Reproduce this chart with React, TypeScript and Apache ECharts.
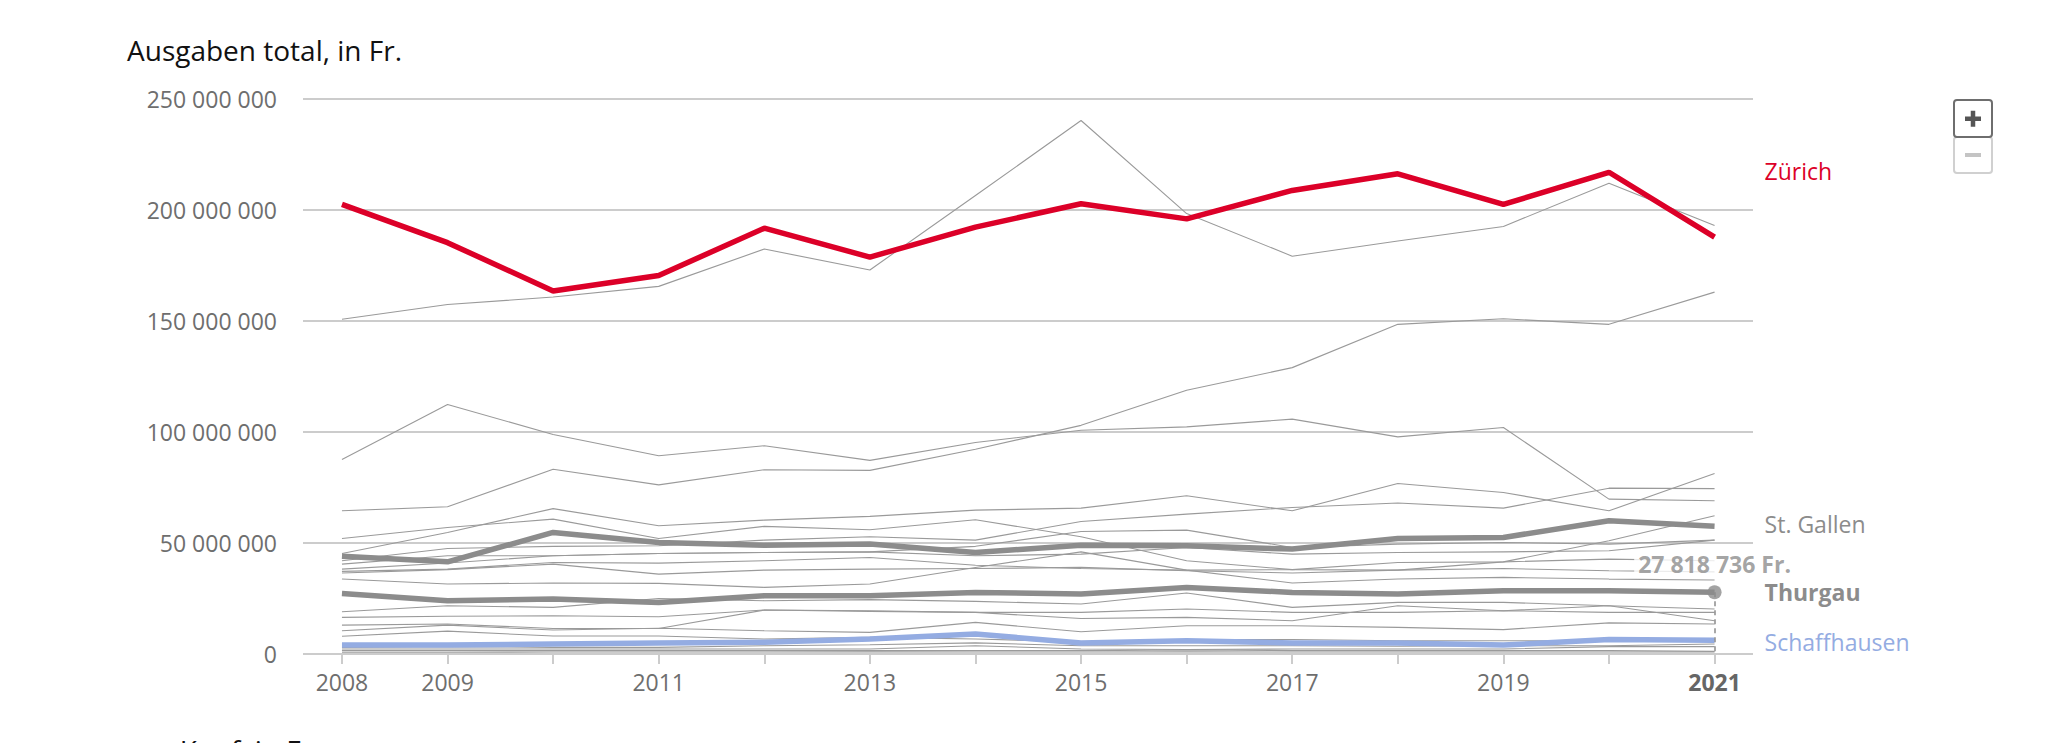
import React, { useEffect, useRef } from "react";
import * as echarts from "echarts";

// ---------- data (values in millions of Fr.) ----------
const years = [2008, 2009, 2010, 2011, 2012, 2013, 2014, 2015, 2016, 2017, 2018, 2019, 2020, 2021];
const labelYears = [2008, 2009, 2011, 2013, 2015, 2017, 2019, 2021];

const zuerich = [202.5, 185.3, 163.5, 170.5, 191.8, 178.8, 192.3, 202.8, 196, 208.8, 216.3, 202.5, 217, 187.8];
const stGallen = [44, 41.5, 54.75, 50.25, 49, 49.5, 45.75, 49, 48.75, 47.25, 52, 52.5, 60, 57.5];
const thurgau = [27.3, 24, 24.75, 23.25, 26.25, 26.25, 27.75, 27, 30, 27.75, 27, 28.5, 28.5, 27.818736];
const schaffhausen = [4, 4, 4.5, 5, 5.25, 6.75, 9, 5, 6, 5, 5, 4, 6.5, 6.2];

const bern = [150.8, 157.4, 160.8, 165.6, 182.4, 173, 206.5, 240.3, 198.4, 179.2, 186, 192.6, 212, 193];
const waadt = [87.6, 112.4, 98.9, 89.3, 93.8, 87.2, 95.3, 100.8, 102.3, 105.8, 97.8, 102, 69.75, 69];
const aargau = [64.5, 66.3, 83.2, 76.2, 83, 82.7, 92.2, 103, 118.8, 129, 148.5, 151, 148.5, 163];
const genf = [45.3, 54.75, 65.5, 57.75, 60.3, 62, 64.8, 65.7, 71.25, 64.5, 76.8, 72.75, 64.5, 81.3];
const luzern = [52, 57, 60.75, 52, 57.5, 56, 60.5, 52.8, 42, 38, 37.8, 41.5, 51, 62.25];
const tessin = [42, 47.5, 48.5, 48.75, 51.3, 52.8, 51.3, 59.7, 63, 66, 68, 65.7, 74.7, 74.5];
const wallis = [38.25, 41, 44.25, 45.3, 45.75, 46, 48.5, 55.2, 55.8, 48, 49.5, 50.25, 49.5, 51.3];
const baselStadt = [40.5, 44.25, 44.25, 45.3, 45.75, 46, 44.25, 45, 48, 45, 45.75, 46, 46.5, 51.3];
const baselLand = [37.2, 38.25, 41.25, 40.95, 42, 43.5, 40, 38.5, 37.8, 38, 41.25, 41.5, 42.75, 42];
const solothurn = [36.5, 38, 40.5, 36, 37.8, 38.25, 38.5, 39, 37.5, 36.5, 37.8, 38.5, 37.5, 37];
const freiburg = [33.75, 31.5, 32, 31.8, 30, 31.5, 39, 46, 37.8, 32, 33.75, 34.5, 33.75, 33.3];
const graubuenden = [19, 21.75, 21, 25, 24, 24.5, 23.7, 22.5, 27.5, 21, 23.25, 23.25, 21.75, 20.25];
const neuenburg = [16.5, 17, 17.25, 16.8, 19.8, 19.2, 18.75, 18.75, 20.25, 18.75, 18.75, 19.5, 18.75, 18.75];
const schwyz = [13, 13.5, 11.5, 11.5, 19.8, 19.5, 18.75, 16, 16.5, 15, 21.75, 19.5, 21.75, 15];
const zug = [10.5, 13, 10.8, 11.6, 10.5, 9.75, 14.25, 10, 12.75, 12.75, 12, 11, 14, 13.5];
const jura = [8, 10.3, 8.1, 8.1, 6.75, 7.5, 6.75, 5.5, 6.5, 6.5, 6, 6, 6, 6.5];
const glarus = [3, 3.3, 3, 3, 3.75, 4.2, 5, 3.75, 3.75, 3.75, 3.5, 3.75, 3.75, 4.5];
const appenzellAR = [2.25, 2.25, 2.25, 2.25, 2.25, 2.25, 3.75, 2.25, 2, 2.25, 2.25, 2.25, 3.3, 3.3];
const nidwalden = [1.5, 1.5, 1.5, 1.5, 1.5, 1.5, 1.5, 1.5, 1.8, 1.5, 1.5, 1.5, 1.5, 1.2];
const uri = [0.8, 0.8, 0.9, 0.9, 0.9, 1, 0.9, 0.9, 1, 0.9, 0.9, 0.9, 0.9, 0.9];

const thinCantons = [
  { name: "Bern", values: bern },
  { name: "Waadt", values: waadt },
  { name: "Aargau", values: aargau },
  { name: "Genf", values: genf },
  { name: "Luzern", values: luzern },
  { name: "Tessin", values: tessin },
  { name: "Wallis", values: wallis },
  { name: "Basel-Stadt", values: baselStadt },
  { name: "Basel-Landschaft", values: baselLand },
  { name: "Solothurn", values: solothurn },
  { name: "Freiburg", values: freiburg },
  { name: "Graubünden", values: graubuenden },
  { name: "Neuenburg", values: neuenburg },
  { name: "Schwyz", values: schwyz },
  { name: "Zug", values: zug },
  { name: "Jura", values: jura },
  { name: "Glarus", values: glarus },
  { name: "Appenzell A.Rh.", values: appenzellAR },
  { name: "Nidwalden", values: nidwalden },
  { name: "Uri", values: uri },
];

// ---------- styles ----------
const FONT = '"Open Sans", "Noto Sans", sans-serif';
const RED = "#dc0028";
const GRAY_THICK = "#8c8c8c";
const THIN = "#9a9a9a";
const BLUE = "#94ace2";
const AXIS_TEXT = "#6e6e6e";

const fmt = (n: number) =>
  Math.round(n).toString().replace(/\B(?=(\d{3})+(?!\d))/g, " ");

export default function App() {
  const ref = useRef<HTMLDivElement>(null);

  useEffect(() => {
    if (!ref.current) return;
    const chart = echarts.init(ref.current, null, { renderer: "svg" });
    const pts = (arr: number[]) => years.map((y, i) => [y, arr[i]]);

    const thinSeries = thinCantons.map((c) => ({
      type: "line",
      name: c.name,
      data: pts(c.values),
      showSymbol: false,
      symbol: "none",
      silent: true,
      z: 2,
      lineStyle: { color: THIN, width: 1.1 },
    }));

    const endLabel = (color: string, bold: boolean, offset: number[]) => ({
      show: true,
      formatter: "{a}",
      distance: 50,
      offset,
      color,
      fontSize: 23,
      fontFamily: FONT,
      fontWeight: bold ? "bold" : "normal",
      align: "left",
      verticalAlign: "middle",
    });

    const tgLast = thurgau[thurgau.length - 1];
    const lastYear = years[years.length - 1];

    const option: any = {
      animation: false,
      backgroundColor: "#ffffff",
      grid: { left: 303, right: 300, top: 99, bottom: 89, containLabel: false },
      xAxis: {
        type: "value",
        min: 2007.631,
        max: 2021.364,
        axisLine: { show: false },
        splitLine: { show: false },
        axisTick: {
          show: true,
          customValues: years,
          length: 10,
          lineStyle: { color: "#cccccc", width: 2 },
        },
        axisLabel: {
          customValues: labelYears,
          margin: 16,
          fontSize: 23,
          color: AXIS_TEXT,
          fontFamily: FONT,
          formatter: (v: number) => (v === lastYear ? "{b|" + v + "}" : String(v)),
          rich: {
            b: { fontWeight: "bold", fontSize: 23, color: "#666666", fontFamily: FONT },
          },
        },
      },
      yAxis: {
        type: "value",
        min: 0,
        max: 250,
        interval: 50,
        axisLine: { show: false },
        axisTick: { show: false },
        splitLine: { lineStyle: { color: "#cccccc", width: 2 } },
        axisLabel: {
          margin: 26,
          fontSize: 23,
          color: AXIS_TEXT,
          fontFamily: FONT,
          formatter: (v: number) => fmt(v * 1e6),
        },
      },
      series: [
        ...thinSeries,
        {
          type: "line",
          name: "Schaffhausen",
          data: pts(schaffhausen),
          showSymbol: false,
          symbol: "none",
          silent: true,
          z: 4,
          lineStyle: { color: BLUE, width: 5.5 },
          endLabel: endLabel(BLUE, false, [0, 1.5]),
        },
        {
          type: "line",
          name: "St. Gallen",
          data: pts(stGallen),
          showSymbol: false,
          symbol: "none",
          silent: true,
          z: 5,
          lineStyle: { color: GRAY_THICK, width: 5.5 },
          endLabel: endLabel(GRAY_THICK, false, [0, -2]),
        },
        {
          type: "line",
          name: "Thurgau",
          data: pts(thurgau),
          showSymbol: false,
          symbol: "none",
          silent: true,
          z: 5,
          lineStyle: { color: GRAY_THICK, width: 5.5 },
          endLabel: endLabel(GRAY_THICK, true, [0, 0]),
        },
        {
          type: "line",
          name: "Zürich",
          data: pts(zuerich),
          showSymbol: false,
          symbol: "none",
          silent: true,
          z: 6,
          lineStyle: { color: RED, width: 5.5 },
          endLabel: endLabel(RED, false, [0, -66]),
        },
        {
          type: "scatter",
          name: "Thurgau Punkt",
          data: [[lastYear, tgLast]],
          symbol: "circle",
          symbolSize: 14,
          silent: true,
          z: 8,
          itemStyle: { color: GRAY_THICK },
          label: {
            show: true,
            position: "inside",
            offset: [0, -28],
            formatter: () => fmt(tgLast * 1e6) + " Fr.",
            color: GRAY_THICK,
            fontSize: 23,
            fontWeight: "bold",
            fontFamily: FONT,
            backgroundColor: "#ffffff",
            padding: [2, 4],
          },
          markLine: {
            silent: true,
            symbol: "none",
            label: { show: false },
            lineStyle: { color: GRAY_THICK, width: 1.5, type: [5, 4] },
            data: [[{ coord: [lastYear, tgLast] }, { coord: [lastYear, 0] }]],
          },
        },
      ],
      graphic: [
        {
          type: "text",
          x: 127,
          y: 50,
          silent: true,
          style: {
            text: "Ausgaben total, in Fr.",
            fill: "#111111",
            fontSize: 28,
            fontFamily: FONT,
            align: "left",
            verticalAlign: "middle",
          },
        },
        {
          type: "text",
          x: 127,
          y: 750,
          silent: true,
          style: {
            text: "pro Kopf, in Fr.",
            fill: "#111111",
            fontSize: 28,
            fontFamily: FONT,
            align: "left",
            verticalAlign: "middle",
          },
        },
        {
          type: "rect",
          shape: { x: 1954, y: 137, width: 38, height: 36, r: 3 },
          style: { fill: "#ffffff", stroke: "#d0d0d0", lineWidth: 2 },
          silent: true,
        },
        {
          type: "rect",
          shape: { x: 1954, y: 100, width: 38, height: 37, r: 3 },
          style: { fill: "#ffffff", stroke: "#6e6e6e", lineWidth: 2 },
          silent: true,
        },
        {
          type: "rect",
          shape: { x: 1965, y: 116.5, width: 16, height: 4.5 },
          style: { fill: "#555555" },
          silent: true,
        },
        {
          type: "rect",
          shape: { x: 1970.75, y: 110.75, width: 4.5, height: 16 },
          style: { fill: "#555555" },
          silent: true,
        },
        {
          type: "rect",
          shape: { x: 1965, y: 153, width: 16, height: 4 },
          style: { fill: "#c4c4c4" },
          silent: true,
        },
      ],
    };

    chart.setOption(option);
    return () => chart.dispose();
  }, []);

  return (
    <div
      ref={ref}
      style={{ position: "fixed", left: 0, top: 0, width: 2053, height: 743, background: "#ffffff" }}
    />
  );
}
